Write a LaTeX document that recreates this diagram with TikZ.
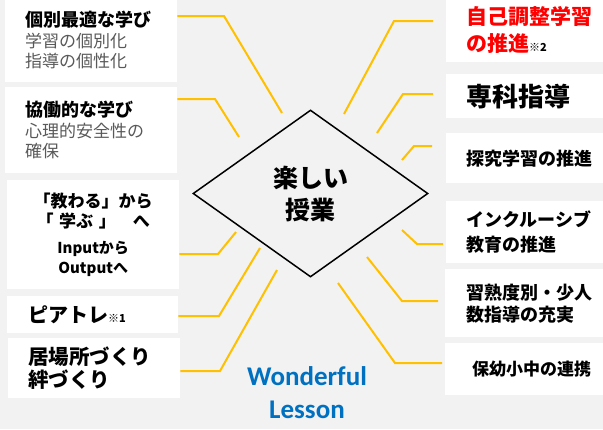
\documentclass[tikz,border=0pt]{standalone}
\usepackage{fontspec}
\setmainfont{Noto Sans CJK JP}
\newfontfamily\lessonfont{Carlito}
\usetikzlibrary{shapes.geometric, positioning}
\definecolor{bggray}{HTML}{F2F2F2}
\definecolor{rayyellow}{HTML}{FFC000}
\definecolor{subgray}{HTML}{595959}
\definecolor{lessonblue}{HTML}{0070C0}
\definecolor{selfred}{HTML}{FF0000}
\newcommand{\fsz}[2]{\fontsize{#1}{#2}\selectfont}

\begin{document}
\begin{tikzpicture}[x=1pt, y=-1pt,
  box/.style={fill=white, anchor=north west, inner xsep=20pt, inner ysep=0pt, align=left},
  ray/.style={draw=rayyellow, line width=2pt}]
  \useasboundingbox (0,0) rectangle (603,429);
  \fill[bggray] (0,0) rectangle (603,429);

  % left column
  \node[box, text width=132pt, minimum height=84pt, font=\fsz{17}{20.5}] (indiv) at (5,-2)
    {{\fsz{18}{20.5}\bfseries 個別最適な学び}\\{\color{subgray}学習の個別化\\指導の個性化}};
  \node[box, text width=132pt, minimum height=86pt, font=\fsz{17}{20.5}] (collab) at (5,87)
    {{\fsz{18}{20.5}\bfseries 協働的な学び}\\{\color{subgray}心理的安全性の\\確保}};
  \node[box, inner xsep=10pt, text width=152pt, minimum height=109pt, align=center,
    font=\fsz{17}{20}\bfseries] (shift) at (7,180)
    {「教わる」から\\「 学ぶ 」　へ\\[6pt]{\fsz{15}{20}Inputから\\Outputへ}};
  \node[box, inner xsep=21pt, text width=129pt, minimum height=37pt, font=\fsz{20}{23}\bfseries] (peer) at (7,296)
    {ピアトレ{\fsz{11}{23}※1}};
  \node[box, text width=132pt, minimum height=60pt, font=\fsz{20.5}{23}\bfseries] (place) at (8,338)
    {居場所づくり\\絆づくり};

  % right column
  \node[box, text width=120pt, minimum height=64pt, font=\fsz{21}{27}\bfseries] (selfreg) at (446,-2)
    {\textcolor{selfred}{自己調整学習}\\\textcolor{selfred}{の推進}{\fsz{11}{27}※2}};
  \node[box, text width=120pt, minimum height=44pt, font=\fsz{26}{30}\bfseries] (subject) at (446,74)
    {専科指導};
  \node[box, text width=120pt, minimum height=50pt, font=\fsz{18}{22}\bfseries] (inquiry) at (446,133)
    {探究学習の推進};
  \node[box, text width=120pt, minimum height=62pt, font=\fsz{18}{25}\bfseries] (inclusive) at (446,201)
    {インクルーシブ\\教育の推進};
  \node[box, inner xsep=21pt, text width=119pt, minimum height=68pt, font=\fsz{18}{22}\bfseries] (level) at (445,269)
    {習熟度別・少人\\数指導の充実};
  \node[box, inner xsep=27pt, text width=107pt, minimum height=52pt, font=\fsz{17}{20}\bfseries] (linkage) at (445,343)
    {保幼小中の連携};

  % centre
  \node[diamond, draw=black, line width=1.5pt, minimum width=235pt, minimum height=167pt,
    inner sep=0pt, align=center, font=\fsz{25}{32}\bfseries] (core) at (310.5,193.5) {楽しい\\授業};
  \node[align=center, text=lessonblue, font=\lessonfont\bfseries\fsz{27}{33}] (lesson) at (307,393)
    {Wonderful\\Lesson};

  % rays
  \coordinate (k1) at (224,16);  \coordinate (t1) at (282,113);
  \coordinate (k2) at (215,99);  \coordinate (t2) at (239,137);
  \coordinate (k3) at (218,254); \coordinate (t3) at (236,232);
  \coordinate (k4) at (219,316); \coordinate (t4) at (260,248);
  \coordinate (k5) at (220,371); \coordinate (t5) at (277,270);
  \coordinate (k6) at (394,21);  \coordinate (t6) at (344,114);
  \coordinate (k7) at (403,94);  \coordinate (t7) at (377,133);
  \coordinate (k8) at (414,146); \coordinate (t8) at (402,160);
  \coordinate (k9) at (417,244); \coordinate (t9) at (402,230);
  \coordinate (k10) at (402,301); \coordinate (t10) at (367,257);
  \coordinate (k11) at (395,363); \coordinate (t11) at (338,283);
  \draw[ray] (indiv.east |- k1) -- (k1) -- (t1);
  \draw[ray] (collab.east |- k2) -- (k2) -- (t2);
  \draw[ray] (shift.east |- k3) -- (k3) -- (t3);
  \draw[ray] (peer.east |- k4) -- (k4) -- (t4);
  \draw[ray] (place.east |- k5) -- (k5) -- (t5);
  \draw[ray, shorten <=13pt] (selfreg.west |- k6) -- (k6) -- (t6);
  \draw[ray, shorten <=13pt] (subject.west |- k7) -- (k7) -- (t7);
  \draw[ray, shorten <=14pt] (inquiry.west |- k8) -- (k8) -- (t8);
  \draw[ray, shorten <=3pt] (inclusive.west |- k9) -- (k9) -- (t9);
  \draw[ray, shorten <=7pt] (level.west |- k10) -- (k10) -- (t10);
  \draw[ray, shorten <=3pt] (linkage.west |- k11) -- (k11) -- (t11);
\end{tikzpicture}
\end{document}
